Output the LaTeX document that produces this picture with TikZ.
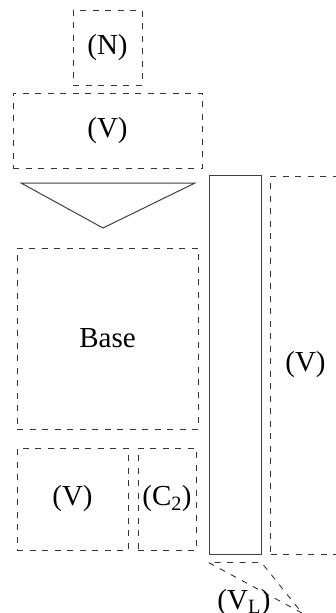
\documentclass[tikz,border=0pt]{standalone}
\usepackage{fontspec}
\setmainfont{Liberation Serif}
\usetikzlibrary{calc}
\tikzset{
  dashy/.style={draw=black!80, line width=0.9pt, dash pattern=on 6pt off 6.5pt},
  dbox/.style={dashy, rectangle, inner sep=0pt, font=\fontsize{29}{32}\selectfont},
  sbox/.style={draw=black!75, line width=1pt, rectangle, inner sep=0pt},
  lbl/.style={inner sep=0pt, font=\fontsize{29}{32}\selectfont}
}
\begin{document}
\begin{tikzpicture}[x=1pt,y=-1pt]
\useasboundingbox (0,0) rectangle (336,613);
\clip (0,0) rectangle (336,613);
\node[dbox, minimum width=69pt, minimum height=75pt] (n) at (107.5,47.5) {(N)};
\node[dbox, minimum width=189pt, minimum height=75pt] (vtop) at (107.5,130.5) {(V)};
\coordinate (tl) at (21,183);
\coordinate (tr) at (195,183);
\coordinate (tb) at (103,228);
\draw[black!75, line width=1pt] (tl) -- (tr) -- (tb) -- cycle;
\node[dbox, minimum width=181pt, minimum height=181pt] (base) at (107.5,338.5) {Base};
\node[dbox, minimum width=111pt, minimum height=102pt] (vbot) at (72.5,499) {(V)};
\node[dbox, minimum width=58pt, minimum height=102pt] (c2) at (167,499) {(C\textsubscript{2})};
\node[sbox, minimum width=52pt, minimum height=379pt] (tall) at (235,364.5) {};
\node[dbox, minimum width=70pt, minimum height=378pt] (vright) at (305.5,365) {(V)};
\coordinate (bl) at ($(tall.south west)+(0,8)$);
\coordinate (br) at ($(tall.south east)+(0,8)$);
\coordinate (ba) at (302,613);
\draw[dashy] (ba) -- (bl) -- (br) -- (ba);
\node[lbl, anchor=base] (vl) at (244,609) {(V\textsubscript{L})};
\end{tikzpicture}
\end{document}
